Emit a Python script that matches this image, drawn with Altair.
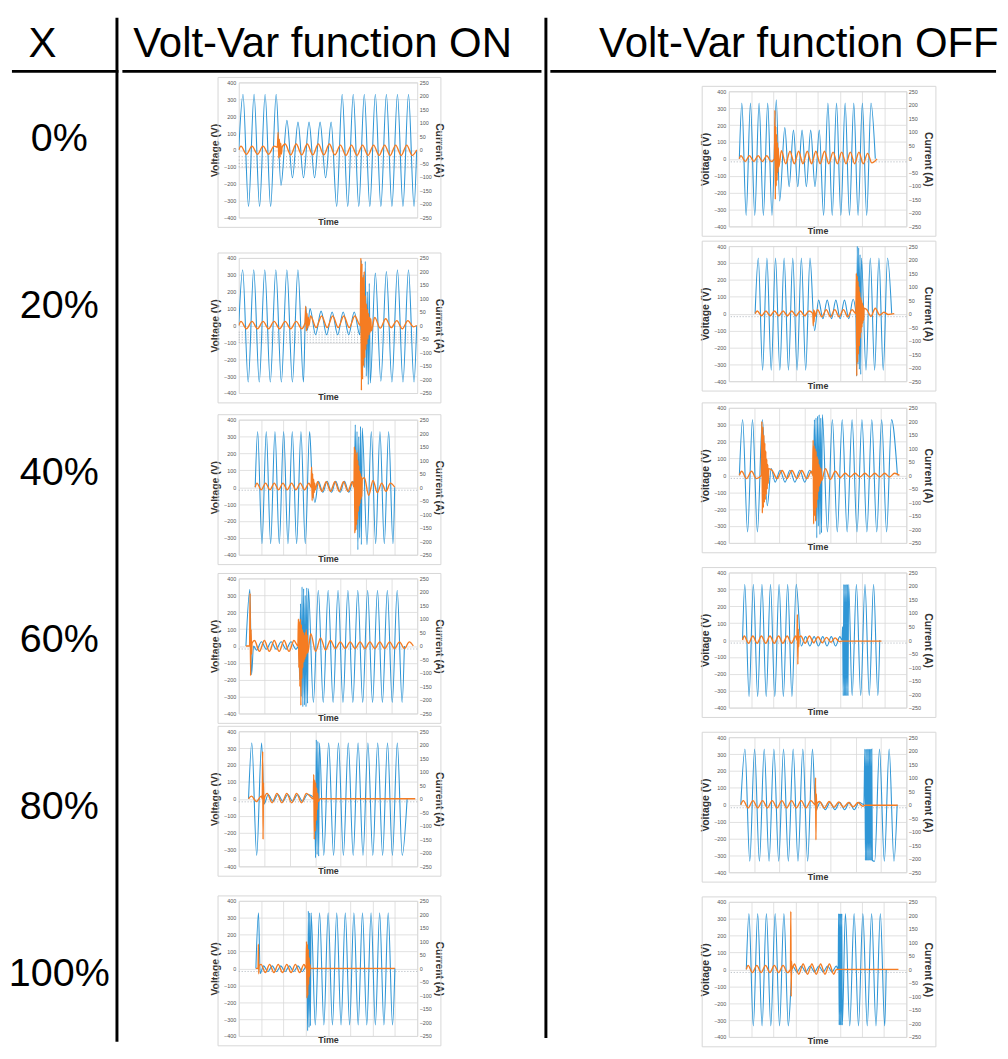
import altair as alt
import pandas as pd

FONT = "Liberation Sans"
BLUE = "#2f96d6"
ORANGE = "#f57c22"
GRID = "#d9d9d9"

HEADERS = ["X", "Volt-Var function ON", "Volt-Var function OFF"]
ROW_LABELS = ["0%", "20%", "40%", "60%", "80%", "100%"]
VOLT_TICKS = [-400, -300, -200, -100, 0, 100, 200, 300, 400]
CURR_TICKS = [-250, -200, -150, -100, -50, 0, 50, 100, 150, 200, 250]

# each series: list of (start time [cycles], spacing)
on0_volt = [(0.0, 0, [0]), (0.385, 0.5, [330, -335, 330, -335, 330, -335, 330]), (3.82, 0, [-210]),
            (4.36, 0.5, [175, -165, 165, -165, 165, -165, 165, -165, 165]),
            (8.86, 0.5, [-335, 330, -335, 330, -335, 330, -335, 330, -335, 330, -335, 330, -335, 330, -335]),
            (16.1, 0, [0])]
on0_curr = [(0.0, 0, [0]), (0.2, 0.5, [14, -16, 14, -16, 14, -16, 14]),
            (3.5, 0.06, [10, 65, -30, 40, -25, 25, -15, 10]),
            (4.2, 0.5, [22, -18, 22, -18, 22, -18, 22, -18, 22, -18]),
            (9.2, 0.5, [18, -20, 18, -20, 18, -20, 18, -20, 18, -20, 18, -20, 18, -20]), (16.1, 0, [0])]

on20_volt = [(0.0, 0, [0]), (0.355, 0.5, [330, -335, 330, -335, 330, -335, 330, -335, 330, -335, 330, -335]),
             (6.07, 0, [115]), (6.2, 0, [-30]),
             (6.45, 0.5, [100, -55, 85, -55, 80, -55, 80, -55, 80, -55]),
             (11.0, 0.09, [0, 385, -100, 300, -250, 380, -300, 200, -350, 250, -340]),
             (12.36, 0.5, [310, -330, 320, -335, 330, -335, 330, -335]), (16.1, 0, [0])]
on20_curr = [(0.0, 0, [0]), (0.2, 0.5, [15, -12, 15, -12, 15, -12, 15, -12, 15, -12, 15, -12]),
             (6.0, 0.06, [10, 70, -20, 45, -10, 30, 0]),
             (6.5, 0.5, [35, -8, 35, -8, 35, -8, 35, -8, 35]),
             (11.0, 0.05, [0, 250, -240, 230, -200, 180, -150, 200, -120, 110, -90, 80, -70, 60, -50, 45, -35, 30, -25, 25, -20]),
             (12.3, 0.5, [30, -10, 25, -8, 18, -12, 18]), (15.8, 0, [-5]), (16.1, 0, [0])]

on40_volt = [(1.9, 0, [0]), (2.18, 0.5, [330, -335, 330, -335, 330, -335, 330, -335, 330, -335, 330, -335, 330]),
             (8.45, 0, [60]), (8.8, 0, [-90]),
             (9.2, 0.5, [35, -30, 35, -30, 35, -30, 35, -30, 35]),
             (13.35, 0.1, [0, 370, -250, 330, -370, 300, -300, 360, -340, 350]),
             (14.8, 0.5, [-340, 330, -335, 330, -335, 330, -335]), (18.0, 0, [0])]
on40_curr = [(1.9, 0, [0]), (2.1, 0.5, [15, -10, 15, -10, 15, -10, 15, -10, 15, -10, 15, -10, 15]),
             (8.35, 0.06, [0, 75, -50, 50, -40, 30, -20, 15, -10]),
             (9.1, 0.5, [20, -15, 20, -15, 20, -15, 20, -15, 20]),
             (13.3, 0.05, [0, 150, -170, 140, -160, 120, -140, 130, -120, 100, -90, 80, -70, 60, -60, 50, -45, 40, -35, 30]),
             (14.5, 0.5, [35, -30, 25, -20, 15, -15, 15]), (18.0, 0, [0])]

on60_volt = [(0.73, 0, [0]), (1.13, 0, [335]), (1.3, 0, [-170]), (1.5, 0, [0]),
             (1.8, 0.5, [-25, 25, -20, 25, -20, 25, -20, 25, -20]),
             (6.1, 0.08, [0, -200, 250, -300, 350, -360, 340, -350, 300, -360, 345, -340, 340]),
             (7.57, 0.5, [-335, 330, -335, 330, -335, 330, -335, 330, -335, 330, -335, 330, -335, 330, -335, 330, -335, 330, -335]),
             (16.8, 0, [0])]
on60_curr = [(0.73, 0, [0]), (1.1, 0.05, [0, 195, -110, 60, -30, 10]),
             (1.6, 0.5, [20, -20, 20, -20, 20, -20, 20, -20, 20]),
             (6.0, 0.05, [0, 100, -80, 90, -150, 100, -220, 80, -120, 60, -80, 50, -60, 40, -50, 50, -40, 60, -30, 40, -25]),
             (7.3, 0.5, [45, -20, 30, -15, 20, -10, 15, -10, 15, -10, 15, -10, 15, -10, 15, -10, 15, -10, 15, -10, 15]),
             (17.7, 0, [0])]

on80_volt = [(1.0, 0, [0]), (1.33, 0.5, [330, -335, 330]), (2.6, 0, [-30]),
             (3.0, 0.5, [25, -15, 25, -15, 25, -15, 25, -15, 25]),
             (7.75, 0.08, [0, -350, 350, -330, 340, -340, 330]),
             (8.67, 0.5, [-335, 330, -335, 330, -335, 330, -335, 330, -335, 330, -335, 330, -335, 330, -335, 330, -335]),
             (17.17, 0, [0])]
on80_curr = [(1.0, 0, [0]), (1.3, 0.5, [10, -10, 10]), (2.4, 0.04, [0, 175, -150, 60, -20, 0]),
             (2.9, 0.5, [20, -15, 20, -15, 20, -15, 20, -15, 20]),
             (7.6, 0.05, [0, 90, -150, 70, -120, 60, -80, 40, -40, 20, -10]), (8.3, 0, [0]), (18.0, 0, [0])]

on100_volt = [(2.0, 0, [0]), (2.3, 0, [330]), (2.5, 0, [-30]),
              (2.9, 0.5, [15, -20, 15, -20, 15, -20, 15, -20, 15, -20, 15]),
              (7.95, 0.08, [0, -370, 340, -350, 330, -340, 330]),
              (8.92, 0.5, [-335, 330, -335, 330, -335, 330, -335, 330, -335, 330, -335, 330, -335, 330, -335, 330, -335, 330, -335]),
              (18.2, 0, [0])]
on100_curr = [(2.0, 0, [0]), (2.25, 0.04, [0, 90, -20, 10]),
              (2.6, 0.5, [15, -15, 15, -15, 15, -15, 15, -15, 15, -15, 15]),
              (7.85, 0.05, [0, 100, -110, 90, -100, 70, -60, 40, -30, 15, 0]), (18.2, 0, [0])]

off0_volt = [(1.22, 0, [0]), (1.51, 0.5, [330, -335, 330, -335, 330, -335, 330, -335, 350]), (5.9, 0, [-250]),
             (6.5, 0.5, [185, -165, 170, -165, 170, -165, 170, -165, 170]),
             (11.0, 0.5, [-335, 330, -335, 330, -335, 330, -335, 330, -335, 330, -335, 330]), (17.0, 0, [0])]
off0_curr = [(1.22, 0, [0]), (1.4, 0.5, [12, -10, 12, -10, 12, -10, 12, -10]),
             (5.3, 0.05, [0, 180, -150, 120, -100, 90, -80, 60, -50, 40, -30]),
             (6.1, 0.5, [30, -18, 28, -18, 28, -18, 28, -18, 28, -18]),
             (11.1, 0.5, [28, -18, 25, -18, 25, -18, 25, -18, 25, -18, 20, -15]), (17.2, 0, [0])]

off20_volt = [(3.05, 0, [0]), (3.42, 0.5, [330, -335, 330, -335, 330, -335, 330, -335, 330, -335, 330, -335, 330]),
              (9.95, 0, [-100]), (10.42, 0.5, [80, -30, 80, -30, 80, -30, 80, -30, 85]),
              (14.75, 0.08, [0, -370, 400, -300, 390, -330, 350, -360, 330]),
              (15.92, 0.5, [-335, 330, -335, 330, -335, 330]), (18.9, 0, [0])]
off20_curr = [(3.05, 0, [0]), (3.3, 0.5, [10, -8, 10, -8, 10, -8, 10, -8, 10, -8, 10, -8, 10]),
              (9.75, 0.05, [0, -45, 15, -30, 10, -10]),
              (10.3, 0.5, [15, -12, 15, -12, 15, -12, 15, -12, 15]),
              (14.75, 0.05, [0, 150, -230, 140, -180, 120, -150, 100, -120, 80, -90, 60, -70, 50, -50, 40, -35, 30, -25, 20]),
              (16.0, 0.5, [15, -10, 20, -5, 5, -3]), (19.2, 0, [0])]

off40_volt = [(1.07, 0, [0]), (1.4, 0.5, [330, -335, 330, -335, 330]), (3.9, 0, [-180]), (4.3, 0, [40]),
              (4.7, 0.5, [-40, 30, -40, 30, -40, 30, -40, 30]),
              (8.6, 0.08, [0, 330, -200, 340, -370, 350, -300, 360, -350, 340, -340, 360]),
              (10.0, 0.5, [-335, 330, -335, 330, -335, 330, -335, 330, -335, 330, -335, 330, -335, 330]),
              (17.1, 0, [0])]
off40_curr = [(1.07, 0, [0]), (1.3, 0.5, [15, -12, 15, -12]),
              (3.3, 0.05, [0, 200, -140, 180, -120, 150, -100, 120, -90, 90, -70, 60, -50, 40, -30, 25]),
              (4.4, 0.5, [18, -12, 18, -12, 18, -12, 18, -12]), (8.4, 0, [15]),
              (8.5, 0.05, [0, 130, -180, 110, -150, 100, -170, 90, -120, 70, -90, 60, -60, 40, -40, 30, -30, 25, -20]),
              (9.8, 0.5, [25, -15, 15, -8, 8, -6, 8, -6, 8, -6, 8, -6, 8, -6, 8]), (17.3, 0, [0])]

off60_volt = [(1.6, 0, [0]), (1.86, 0.5, [330, -335, 330, -335, 330, -335, 330, -335, 330, -335, 330, -335, 330]),
              (8.45, 0.5, [-35, 20, -35, 20, -35, 20, -35, 20, -35, 20]),
              (13.2, 0.07, [0, 80, -330, 330, -330, 330, -330, 330, -330, 330, -330, 330]),
              (14.38, 0.5, [-330, 330, -330, 330, -330, 330, -330]), (17.6, 0, [0])]
off60_curr = [(1.6, 0, [0]), (1.8, 0.5, [15, -12, 15, -12, 15, -12, 15, -12, 15, -12, 15, -12, 15]),
              (7.95, 0.05, [0, 95, -90, 40, -25, 10]),
              (8.4, 0.5, [15, -12, 15, -10, 12, -10, 10, -8, 8, -6]), (13.2, 0, [-4]), (17.8, 0, [-4])]

off80_volt = [(1.24, 0, [0]), (1.67, 0.5, [330, -335, 330, -335, 330, -335, 330, -335, 330, -335, 330, -335, 330, -335, 330]),
              (9.0, 0, [-30]), (9.5, 0.5, [15, -30, 15, -30, 15, -30, 15, -30, 15]), (14.0, 0, [0]),
              (14.1, 0.06, [330, -330, 330, -330, 330, -330, 330, -330, 330, -330, 330, -330, 330, -330]),
              (15.12, 0.5, [-335, 330, -335, 330, -335]), (17.45, 0, [0])]
off80_curr = [(1.24, 0, [0]), (1.5, 0.5, [15, -12, 15, -12, 15, -12, 15, -12, 15, -12, 15, -12, 15, -12, 15]),
              (8.95, 0.04, [0, 100, -130, 40, -20, 5]),
              (9.4, 0.5, [12, -12, 12, -10, 10, -10, 8, -8, 8, -6]), (14.1, 0, [-2]), (17.5, 0, [-2])]

off100_volt = [(2.0, 0, [0]), (2.3, 0.5, [330, -335, 330, -335, 330, -335, 330, -335, 330, -335]),
               (7.3, 0.5, [20, -15, 20, -15, 20, -15, 20, -15, 20, -15, 20]),
               (12.5, 0.06, [0, 330, -330, 330, -330, 330, -330, 330, -330]),
               (13.33, 0.5, [330, -335, 330, -335, 330, -335, 330, -335, 330, -335]), (18.0, 0, [0])]
off100_curr = [(2.0, 0, [0]), (2.2, 0.5, [15, -12, 15, -12, 15, -12, 15, -12, 15, -12]),
               (7.05, 0.04, [0, 215, -100, 30, 0]),
               (7.5, 0.5, [20, -18, 20, -18, 20, -18, 20, -18, 20, -18]), (12.3, 0, [0]), (19.4, 0, [0])]

# faint dotted label rows seen below zero in each panel (volts)
on0_dots = [-40, -60, -80, -100]
on20_dots = [-40, -55, -70, -85, -100]
other_dots = [-18]

# (time span in cycles, vertical gridline intervals, voltage, current, dotted rows)
ON_PANELS = [(16.15, 0, on0_volt, on0_curr, on0_dots),
             (16.15, 0, on20_volt, on20_curr, on20_dots),
             (20.6, 8, on40_volt, on40_curr, other_dots),
             (18.1, 7, on60_volt, on60_curr, other_dots),
             (18.2, 7, on80_volt, on80_curr, other_dots),
             (20.8, 8, on100_volt, on100_curr, other_dots)]
OFF_PANELS = [(20.6, 8, off0_volt, off0_curr, other_dots),
              (20.6, 8, off20_volt, off20_curr, other_dots),
              (18.0, 7, off40_volt, off40_curr, other_dots),
              (20.7, 8, off60_volt, off60_curr, other_dots),
              (18.4, 7, off80_volt, off80_curr, other_dots),
              (20.3, 8, off100_volt, off100_curr, other_dots)]

# ---------------- layout (chart pixel coordinates) ----------------
TOTAL_H = 1040
LABEL_W = 110
ON_W = 425
DIV_W = 3
OFF_W = 452
PLOT_H = 137
FRAME_B = 10
HEAD_SIZE = 42.5
HEAD_Y = 28.5
LINE_Y = 55.8
ON_LAYOUT = dict(plot_w=181, left=118, col_w=ON_W, frame=(-21, 205),
                 tops=[65, 241, 403, 562, 715, 885], bounds=[58, 224, 393, 553, 710, 871, 1043])
OFF_LAYOUT = dict(plot_w=180, left=181, col_w=OFF_W, frame=(-27, 210),
                  tops=[74, 229, 391, 556, 721, 886], bounds=[62, 223, 381, 545, 710, 875, 1043])

one = pd.DataFrame({"k": [0]})


def expand(segs, name):
    rows = []
    for t0, step, vals in segs:
        for k, val in enumerate(vals):
            rows.append({"t": round(t0 + k * step, 4), name: val})
    return pd.DataFrame(rows).sort_values("t").reset_index(drop=True)


def make_panel(spec, lay, idx):
    tmax, ngrid, volt, curr, dots = spec
    top = lay["tops"][idx]
    ctop, cbot = lay["bounds"][idx], lay["bounds"][idx + 1]
    pw = lay["plot_w"]
    xs = alt.Scale(domain=[0, tmax], nice=False, zero=False)
    xkw = dict(labels=False, ticks=False, domain=False, title="Time", titleFontSize=9,
               titleFontWeight="bold", titlePadding=0, titleColor="#333", titleFont=FONT)
    if ngrid:
        xaxis = alt.Axis(values=[tmax * k / ngrid for k in range(ngrid + 1)], grid=True,
                         gridColor=GRID, gridWidth=0.8, **xkw)
    else:
        xaxis = alt.Axis(grid=False, **xkw)
    vaxis = alt.Axis(values=VOLT_TICKS, orient="left", ticks=False, domain=False, grid=True,
                     gridColor=GRID, gridWidth=0.8, labelFontSize=5.5, labelColor="#555",
                     labelPadding=3, labelFont=FONT, title="Voltage (V)", titleFontSize=10.5,
                     titleFontWeight="bold", titlePadding=3, titleColor="#333", titleFont=FONT)
    iaxis = alt.Axis(values=CURR_TICKS, orient="right", ticks=False, domain=False, grid=False,
                     labelFontSize=5.5, labelColor="#555", labelPadding=2, labelFont=FONT,
                     title="Current (A)", titleFontSize=10.5, titleFontWeight="bold",
                     titlePadding=2, titleColor="#333", titleFont=FONT)

    frame = alt.Chart(one).mark_rect(fillOpacity=0, stroke="#d6d6d6", strokeWidth=1).encode(
        x=alt.value(lay["frame"][0]), x2=alt.value(lay["frame"][1]),
        y=alt.value(-5), y2=alt.value(PLOT_H + FRAME_B))
    box = alt.Chart(one).mark_rect(opacity=0).encode(
        x=alt.value(-lay["left"]), x2=alt.value(lay["col_w"] - lay["left"]),
        y=alt.value(ctop - top), y2=alt.value(cbot - top))
    dot = alt.Chart(pd.DataFrame({"lvl": dots})).mark_rule(
        color="#a9b0b8", strokeDash=[1, 2], strokeWidth=1).encode(
        y=alt.Y("lvl:Q", scale=alt.Scale(domain=[-400, 400], nice=False, zero=False), axis=None))
    blue = alt.Chart(expand(volt, "v")).mark_line(
        color=BLUE, strokeWidth=1.1, interpolate="monotone", clip=True).encode(
        x=alt.X("t:Q", scale=xs, axis=xaxis),
        y=alt.Y("v:Q", scale=alt.Scale(domain=[-400, 400], nice=False, zero=False), axis=vaxis))
    orange = alt.Chart(expand(curr, "i")).mark_line(
        color=ORANGE, strokeWidth=1.4, interpolate="monotone", clip=True).encode(
        x=alt.X("t:Q", scale=xs, axis=xaxis),
        y=alt.Y("i:Q", scale=alt.Scale(domain=[-250, 250], nice=False, zero=False), axis=iaxis))
    return alt.layer(frame, box, dot, blue, orange).resolve_scale(
        y="independent").properties(width=pw, height=PLOT_H,
                                    view=alt.ViewBackground(stroke=GRID))


def make_header(text, lay, cx):
    left, width, height = lay["left"], lay["col_w"], lay["bounds"][0]
    t = alt.Chart(pd.DataFrame({"h": [text]})).mark_text(
        font=FONT, fontSize=HEAD_SIZE, align="center", baseline="middle", color="black").encode(
        text="h:N", x=alt.value(cx - left), y=alt.value(HEAD_Y))
    r = alt.Chart(one).mark_rule(color="black", strokeWidth=3).encode(
        x=alt.value(-left), x2=alt.value(width - left), y=alt.value(LINE_Y))
    b = alt.Chart(one).mark_rect(opacity=0).encode(
        x=alt.value(-left), x2=alt.value(width - left), y=alt.value(0), y2=alt.value(height))
    return alt.layer(b, r, t).properties(width=lay["plot_w"], height=height)


def make_column(header_text, cx, panels, lay):
    cells = [make_header(header_text, lay, cx)]
    for i, spec in enumerate(panels):
        cells.append(make_panel(spec, lay, i))
    return alt.vconcat(*cells, spacing=0)


# label column
lab_df = pd.DataFrame({"label": ROW_LABELS, "row": list(range(len(ROW_LABELS)))})
x_text = alt.Chart(pd.DataFrame({"h": [HEADERS[0]]})).mark_text(
    font=FONT, fontSize=HEAD_SIZE, align="center", baseline="middle", color="black").encode(
    text="h:N", x=alt.value(33), y=alt.value(HEAD_Y))
rows_text = alt.Chart(lab_df).mark_text(
    font=FONT, fontSize=40, align="center", baseline="middle", color="black").encode(
    text="label:N", x=alt.value(50),
    y=alt.Y("row:Q", scale=alt.Scale(domain=[0, 5], range=[125, 971]), axis=None))
h_rule = alt.Chart(one).mark_rule(color="black", strokeWidth=3).encode(
    x=alt.value(2), x2=alt.value(LABEL_W), y=alt.value(LINE_Y))
v_rule = alt.Chart(one).mark_rule(color="black", strokeWidth=3).encode(
    x=alt.value(LABEL_W - 1.5), y=alt.value(1.5), y2=alt.value(TOTAL_H))
label_col = alt.layer(h_rule, v_rule, x_text, rows_text).properties(width=LABEL_W, height=TOTAL_H)

divider = alt.Chart(one).mark_rule(color="black", strokeWidth=3).encode(
    x=alt.value(1.5), y=alt.value(1.5), y2=alt.value(TOTAL_H - 4)).properties(width=DIV_W, height=TOTAL_H)

on_col = make_column(HEADERS[1], 203, ON_PANELS, ON_LAYOUT)
off_col = make_column(HEADERS[2], 252, OFF_PANELS, OFF_LAYOUT)

chart = alt.hconcat(label_col, on_col, divider, off_col, spacing=0).properties(
    padding=0).configure(font=FONT).configure_view(stroke="transparent")

chart.save("out.html", embed_options={"renderer": "svg", "actions": False})
